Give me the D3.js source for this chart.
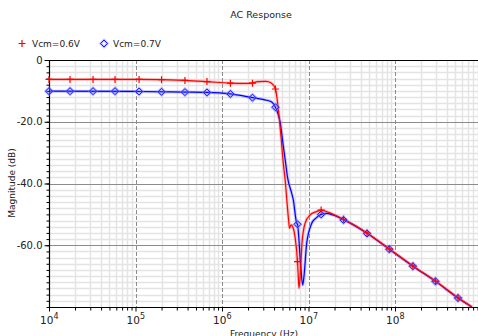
<!DOCTYPE html>
<html><head><meta charset="utf-8">
<script src="https://cdn.jsdelivr.net/npm/d3@7"></script>
<style>body{margin:0;background:#fff}svg{display:block;font-family:"DejaVu Sans",sans-serif}</style>
</head><body><svg id="c" width="478" height="336"></svg>
<script>
const seriesNames = ["Vcm=0.6V", "Vcm=0.7V"];
const freqRed = [1e4, 1.1e5, 3.73e5, 6.7e5, 1.25e6, 1.85e6, 2.2e6, 2.6e6, 3.23e6, 3.68e6, 4.15e6, 4.44e6, 4.81e6, 5.07e6, 5.42e6, 5.64e6, 5.87e6, 6.03e6, 6.28e6, 6.67e6, 6.98e6, 7.46e6, 7.62e6, 7.77e6, 8.13e6, 8.41e6, 9.12e6, 1.04e7, 1.24e7, 1.40e7, 1.77e7, 2.54e7, 4.75e7, 8.6e7, 1.61e8, 2.94e8, 5.35e8, 7.76e8];
const dbRed = [-6.3, -6.3, -6.6, -7.0, -7.5, -7.6, -7.5, -7.0, -6.9, -7.4, -9.4, -15, -24.8, -32.4, -40, -46, -51.5, -54.5, -53.4, -54.5, -57.2, -65.3, -70.2, -73.9, -66.9, -59.4, -52.9, -50.2, -49.1, -48.6, -49.5, -51.6, -56.0, -61.2, -66.7, -71.6, -77.0, -80];
const freqBlue = [1e4, 1.1e5, 3.73e5, 6.7e5, 1.25e6, 2.25e6, 3.14e6, 3.76e6, 4.15e6, 4.48e6, 4.69e6, 5.12e6, 5.42e6, 5.72e6, 6.40e6, 6.67e6, 7.31e6, 7.46e6, 8.13e6, 8.57e6, 8.87e6, 9.53e6, 1.09e7, 1.22e7, 1.40e7, 1.62e7, 1.92e7, 2.54e7, 4.75e7, 8.6e7, 1.61e8, 2.94e8, 5.35e8, 7.76e8];
const dbBlue = [-10.1, -10.2, -10.4, -10.5, -11.0, -12.2, -12.9, -13.6, -15.3, -17.8, -20, -28, -33, -38, -43.2, -45.3, -52.9, -53.2, -66.9, -72.9, -70, -59.4, -52.9, -51.2, -50.0, -49.7, -50.2, -51.7, -56.1, -61.3, -66.8, -71.7, -77.1, -80];
const markerFreqs = [1e4, 1.75e4, 3.23e4, 5.8e4, 1.10e5, 2.0e5, 3.73e5, 6.7e5, 1.25e6, 2.25e6, 4.15e6, 7.46e6, 1.40e7, 2.54e7, 4.75e7, 8.6e7, 1.61e8, 2.94e8, 5.35e8];
const markerRed = [-6.3, -6.3, -6.3, -6.3, -6.3, -6.4, -6.6, -7.0, -7.5, -7.5, -9.4, -65.3, -48.6, -51.6, -56.0, -61.2, -66.7, -71.6, -77.0];
const markerBlue = [-10.1, -10.1, -10.1, -10.1, -10.2, -10.3, -10.4, -10.5, -11.0, -12.2, -15.3, -53.2, -50.0, -51.8, -56.2, -61.3, -66.8, -71.7, -77.1];
const yMajorTicks = [0, -20, -40, -60];
const yTickLabels = ["0", "-20.0", "-40.0", "-60.0"];
const xDecades = [1e4, 1e5, 1e6, 1e7, 1e8];
const xDecadeExps = ["4", "5", "6", "7", "8"];

const svg = d3.select("#c");
const L = 49, R = 481.5, T = 60, B = 307;
const x = d3.scaleLog().domain([1e4, 1e9]).range([L, R]);
const y = d3.scaleLinear().domain([-80, 0]).range([B, T]);

svg.append("rect").attr("width", 478).attr("height", 336).attr("fill", "#fff");
svg.append("defs").append("clipPath").attr("id", "clip")
  .append("rect").attr("x", L).attr("y", T).attr("width", R - L).attr("height", B - T);

const g = svg.append("g");
// minor grids
const minorX = [];
for (let e = 4; e < 9; e++) for (let m = 2; m <= 9; m++) minorX.push(m * Math.pow(10, e));
g.selectAll(".mx").data(minorX).enter().append("line")
  .attr("x1", d => Math.round(x(d)) + 0.5).attr("x2", d => Math.round(x(d)) + 0.5)
  .attr("y1", T).attr("y2", B).attr("stroke", "#e4e4e4").attr("stroke-width", 1.5);
const minorY = d3.range(-78, 0, 2).filter(v => v % 20 !== 0);
g.selectAll(".my").data(minorY).enter().append("line")
  .attr("x1", L).attr("x2", R).attr("y1", d => Math.round(y(d)) + 0.5).attr("y2", d => Math.round(y(d)) + 0.5)
  .attr("stroke", "#e4e4e4").attr("stroke-width", 1.5);
// major grids
g.selectAll(".Mx").data(xDecades.slice(1).concat([1e9])).enter().append("line")
  .attr("x1", d => Math.round(x(d)) + 0.5).attr("x2", d => Math.round(x(d)) + 0.5)
  .attr("y1", T).attr("y2", B).attr("stroke", "#8c8c8c").attr("stroke-width", 1).attr("stroke-dasharray", "4,2");
g.selectAll(".My").data(yMajorTicks.slice(1)).enter().append("line")
  .attr("x1", L).attr("x2", R).attr("y1", d => Math.round(y(d)) + 0.5).attr("y2", d => Math.round(y(d)) + 0.5)
  .attr("stroke", "#8c8c8c").attr("stroke-width", 1);

// axes
const yAxis = d3.axisLeft(y).tickValues(d3.range(-80, 1, 2)).tickSize(3).tickFormat("");
svg.append("g").attr("transform", `translate(${L + 0.5},0)`).call(yAxis)
  .call(a => { a.select(".domain").remove(); a.selectAll("line").attr("stroke", "#000"); });
const yAxisMajor = d3.axisLeft(y).tickValues(yMajorTicks).tickSize(5).tickPadding(2)
  .tickFormat((d, i) => yTickLabels[i]);
svg.append("g").attr("transform", `translate(${L + 0.5},0)`).call(yAxisMajor)
  .call(a => { a.select(".domain").remove(); a.selectAll("line").attr("stroke", "#000");
    a.selectAll("text").attr("font-size", 10).attr("fill", "#222").attr("font-family", "DejaVu Sans"); });

const xAxis = d3.axisBottom(x).tickValues(minorX.filter(d => d < 1e9)).tickSize(3).tickFormat("");
svg.append("g").attr("transform", `translate(0,${B + 0.5})`).call(xAxis)
  .call(a => { a.select(".domain").remove(); a.selectAll("line").attr("stroke", "#000"); });
const xAxisMajor = d3.axisBottom(x).tickValues(xDecades).tickSize(4).tickFormat("");
svg.append("g").attr("transform", `translate(0,${B + 0.5})`).call(xAxisMajor)
  .call(a => { a.select(".domain").remove(); a.selectAll("line").attr("stroke", "#000"); });
xDecades.forEach((d, i) => {
  const t = svg.append("text").attr("x", x(d) - 9).attr("y", 324).attr("font-size", 10.5).attr("fill", "#222");
  t.append("tspan").text("10");
  t.append("tspan").attr("dy", -5).attr("font-size", 8).text(xDecadeExps[i]);
});

// frame lines
svg.append("line").attr("x1", L).attr("x2", R).attr("y1", T + 0.5).attr("y2", T + 0.5).attr("stroke", "#000").attr("stroke-width", 1.2);
svg.append("line").attr("x1", L).attr("x2", R).attr("y1", B + 0.5).attr("y2", B + 0.5).attr("stroke", "#000").attr("stroke-width", 1.2);
svg.append("line").attr("x1", L + 0.5).attr("x2", L + 0.5).attr("y1", T).attr("y2", B + 1).attr("stroke", "#000").attr("stroke-width", 1.2);

// lines
const line = d3.line().x(d => x(d[0])).y(d => y(d[1])).curve(d3.curveMonotoneX);
const plot = svg.append("g").attr("clip-path", "url(#clip)");
const redData = freqRed.map((f, i) => [f, dbRed[i]]);
const blueData = freqBlue.map((f, i) => [f, dbBlue[i]]);
plot.append("path").attr("d", line(blueData)).attr("fill", "none").attr("stroke", "#8080ff").attr("stroke-opacity", 0.45).attr("stroke-width", 3);
plot.append("path").attr("d", line(redData)).attr("fill", "none").attr("stroke", "#ff8080").attr("stroke-opacity", 0.45).attr("stroke-width", 3);
plot.append("path").attr("d", line(blueData)).attr("fill", "none").attr("stroke", "#0000ff").attr("stroke-width", 1.2);
plot.append("path").attr("d", line(redData)).attr("fill", "none").attr("stroke", "#ff0000").attr("stroke-width", 1.2);

// markers
const plus = (sel, cx, cy) => {
  sel.append("path").attr("d", `M${cx - 3.5},${cy}H${cx + 3.5}M${cx},${cy - 3.5}V${cy + 3.5}`)
    .attr("stroke", "#ff0000").attr("stroke-width", 1.2).attr("fill", "none");
};
const diamond = (sel, cx, cy) => {
  sel.append("path").attr("d", `M${cx},${cy - 3.5}L${cx + 3.5},${cy}L${cx},${cy + 3.5}L${cx - 3.5},${cy}Z`)
    .attr("stroke", "#8080ff").attr("stroke-opacity", 0.5).attr("stroke-width", 2.5).attr("fill", "none");
  sel.append("path").attr("d", `M${cx},${cy - 3.5}L${cx + 3.5},${cy}L${cx},${cy + 3.5}L${cx - 3.5},${cy}Z`)
    .attr("stroke", "#1a1aff").attr("stroke-width", 1).attr("fill", "none");
};
const mk = svg.append("g");
markerFreqs.forEach((f, i) => { diamond(mk, x(f), y(markerBlue[i])); });
markerFreqs.forEach((f, i) => { plus(mk, x(f), y(markerRed[i])); });

// titles
svg.append("text").attr("x", 261).attr("y", 18).attr("text-anchor", "middle").attr("font-size", 9.5).attr("fill", "#222").text("AC Response");
svg.append("text").attr("transform", "translate(15,183) rotate(-90)").attr("text-anchor", "middle").attr("font-size", 9).attr("fill", "#222").text("Magnitude (dB)");
svg.append("text").attr("x", 264).attr("y", 337).attr("text-anchor", "middle").attr("font-size", 9).attr("fill", "#222").text("Frequency (Hz)");

// legend
plus(svg, 22, 43.5);
svg.append("text").attr("x", 32).attr("y", 47).attr("font-size", 9).attr("fill", "#222").text(seriesNames[0]);
diamond(svg, 104, 43.5);
svg.append("text").attr("x", 113).attr("y", 47).attr("font-size", 9).attr("fill", "#222").text(seriesNames[1]);
</script></body></html>
